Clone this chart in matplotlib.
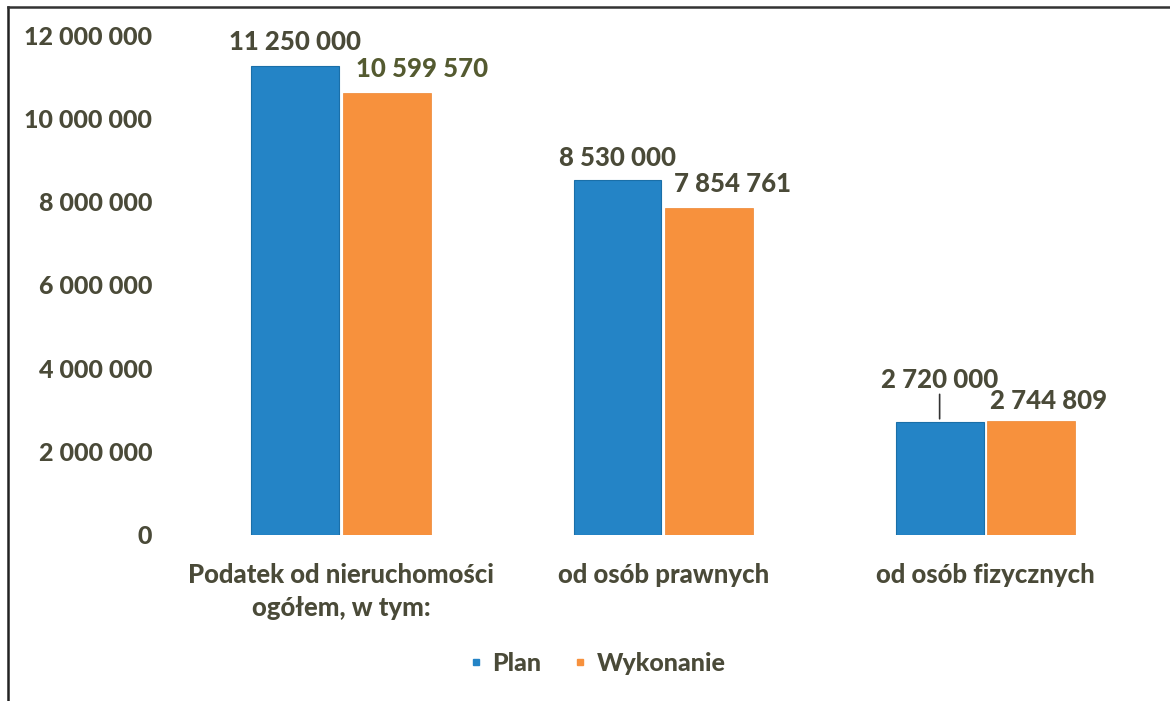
import matplotlib
matplotlib.use("Agg")
import matplotlib.pyplot as plt
from matplotlib.lines import Line2D
import numpy as np

categories = ["Podatek od nieruchomości\nogółem, w tym:", "od osób prawnych", "od osób fizycznych"]
plan = [11250000, 8530000, 2720000]
wykonanie = [10599570, 7854761, 2744809]
series_names = ["Plan", "Wykonanie"]
yticks = [0, 2000000, 4000000, 6000000, 8000000, 10000000, 12000000]

BLUE = "#2484c6"
ORANGE = "#f7913d"
TXT = "#4a4a38"
FONT = ["Lato", "DejaVu Sans"]
FW = 900
FS = 18.5

def fmt(v):
    return f"{v:,}".replace(",", " ")

fig = plt.figure(figsize=(11.7, 7.01), dpi=100)
ax = fig.add_axes([0.154, 0.237, 0.826, 0.713])

x = np.arange(len(categories))
w = 0.273
gap = 0.006
b1 = ax.bar(x - w / 2 - gap, plan, width=w, color=BLUE, edgecolor="#1a6fa8", linewidth=0.8)
b2 = ax.bar(x + w / 2 + gap, wykonanie, width=w, color=ORANGE, edgecolor="#ee8530", linewidth=0.5)

ax.set_xlim(-0.5, len(categories) - 0.5)
ax.set_ylim(0, 12000000)
ax.set_yticks(yticks)
ax.set_yticklabels([fmt(v) for v in yticks], fontsize=18, fontweight=FW, color=TXT, family=FONT)
ax.set_xticks(x)
ax.set_xticklabels(categories, fontsize=FS, fontweight=FW, color=TXT, family=FONT, linespacing=1.45)
ax.tick_params(axis="both", length=0)
ax.tick_params(axis="y", pad=20)
ax.tick_params(axis="x", pad=20)
for s in ax.spines.values():
    s.set_visible(False)

# data labels
plan_offsets = [(0, 12), (0, 10), (0, 30)]
wyk_offsets = [(35, 12), (23, 12), (17, 8)]
for i, (r, v) in enumerate(zip(b1, plan)):
    dx, dy = plan_offsets[i]
    ax.annotate(fmt(v), (r.get_x() + r.get_width() / 2, v), xytext=(dx, dy),
                textcoords="offset pixels", ha="center", va="bottom",
                fontsize=FS, fontweight=FW, color=TXT, family=FONT)
for i, (r, v) in enumerate(zip(b2, wykonanie)):
    dx, dy = wyk_offsets[i]
    ax.annotate(fmt(v), (r.get_x() + r.get_width() / 2, v), xytext=(dx, dy),
                textcoords="offset pixels", ha="center", va="bottom",
                fontsize=FS, fontweight=FW, color="#545a30" if i == 0 else TXT, family=FONT)

# leader line for small plan bar
r = b1[2]
xc = r.get_x() + r.get_width() / 2
ax.annotate("", (xc, plan[2]), xytext=(0, 30), textcoords="offset pixels",
            arrowprops=dict(arrowstyle="-", color="#333333", lw=1.2))

handles = [Line2D([], [], marker="s", linestyle="", markersize=5, color=BLUE),
           Line2D([], [], marker="s", linestyle="", markersize=5, color=ORANGE)]
leg = fig.legend(handles, series_names, loc="center", bbox_to_anchor=(0.511, 0.054), ncol=2,
                 frameon=False, handlelength=0.5, handletextpad=0.4, columnspacing=1.3,
                 prop={"family": FONT, "weight": FW, "size": 18})
for t in leg.get_texts():
    t.set_color(TXT)

# frame lines (scan border)
fig.add_artist(Line2D([0.007, 0.007], [0.0, 0.99], color="#222222", lw=1.8, transform=fig.transFigure))
fig.add_artist(Line2D([0.007, 1.0], [0.99, 0.99], color="#333333", lw=1.8, transform=fig.transFigure))

fig.savefig("out.png", dpi=100, facecolor="white")
